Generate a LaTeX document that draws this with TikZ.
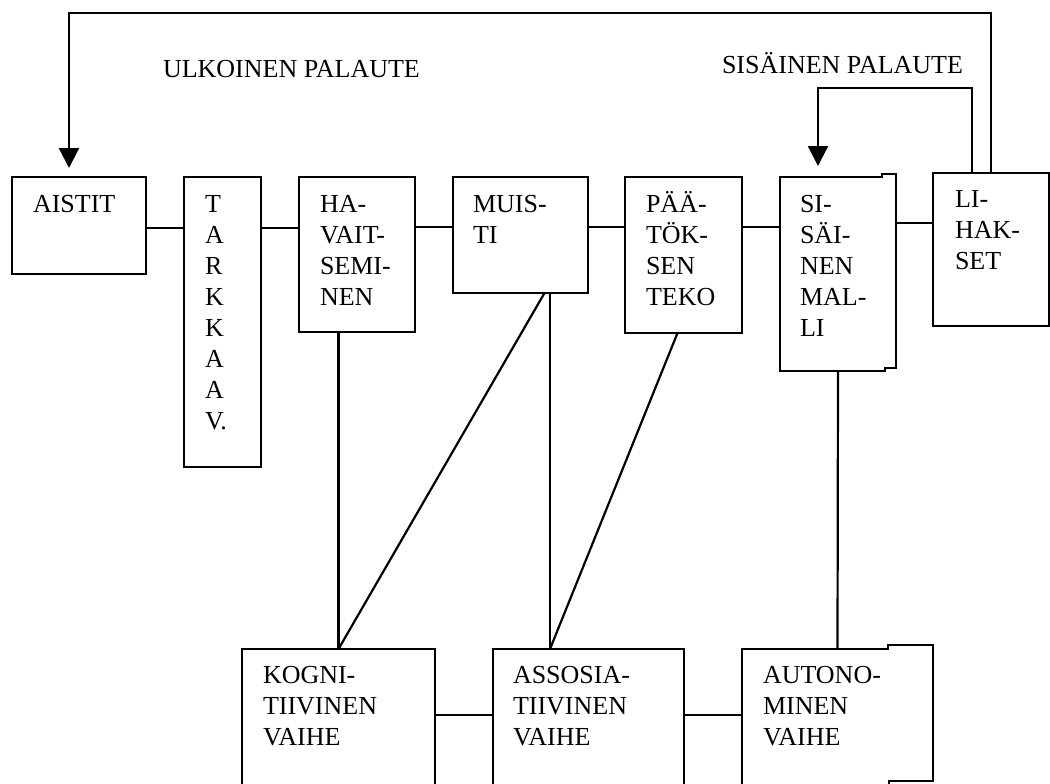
\documentclass[tikz,border=0pt]{standalone}
\usepackage{fontspec}
\setmainfont{Liberation Serif}
\definecolor{Ink}{RGB}{0, 0, 0}
\usetikzlibrary{arrows.meta, positioning}
\newcommand{\ekarivi}{\rule{0pt}{11pt}}

\begin{document}
\begin{tikzpicture}[x=0.5pt, y=-0.5pt, >={Triangle[width=10pt, length=10pt]}, line width=1.1pt, draw=Ink,
    lohko/.style={draw=Ink, inner sep=0pt, outer sep=0pt, anchor=north west},
    teksti/.style={text=Ink, inner sep=0pt, outer sep=0pt, align=left, anchor=north west, font=\fontsize{13pt}{15.5pt}\selectfont}]
    \useasboundingbox (0,0) rectangle (1050,783);
    \clip (0,0) rectangle (1050,783);
    % upper row
    \node[lohko, minimum width=67pt, minimum height=48.5pt] (aistit) at (12,177) {};
    \node[right=19pt of aistit.north east, lohko, minimum width=38.5pt, minimum height=145pt] (tark) {};
    \node[right=19pt of tark.north east, lohko, minimum width=58pt, minimum height=77.5pt] (havait) {};
    \node[right=19pt of havait.north east, lohko, minimum width=67.5pt, minimum height=58pt] (muisti) {};
    \node[right=18.5pt of muisti.north east, lohko, minimum width=58.5pt, minimum height=78pt] (paatos) {};
    \node[right=19pt of paatos.north east, lohko, draw=none, minimum width=58pt, minimum height=97pt] (sisainen) {};
    \node[right=18.5pt of sisainen.north east, lohko, yshift=2pt, minimum width=58pt, minimum height=76.5pt] (lihakset) {};
    \draw (sisainen.north west) -- ++(102,0) -- ++(0,-3) -- ++(14,0) -- ++(0,194) -- ++(-11,0) -- ++(0,3) -- (sisainen.south west) -- cycle;
    % lower row
    \node[lohko, minimum width=96.5pt, minimum height=75pt] (kogni) at (242,649) {};
    \node[right=29pt of kogni.north east, lohko, minimum width=95.5pt, minimum height=75pt] (assos) {};
    \node[right=29pt of assos.north east, lohko, draw=none, minimum width=95.5pt, minimum height=75pt] (autono) {};
    \draw (autono.south west) -- (autono.north west) -- ++(146,0) -- ++(0,-4) -- ++(45,0) -- ++(0,136) -- ++(-44,0) -- ++(0,18);
    % texts
    \node[teksti] (t-aistit) at ([xshift=10.5pt, yshift=-6.5pt]aistit.north west) {\ekarivi AISTIT};
    \node[teksti] (t-tark) at ([xshift=10.5pt, yshift=-6.5pt]tark.north west) {\ekarivi T\\A\\R\\K\\K\\A\\A\\V.};
    \node[teksti] (t-havait) at ([xshift=10.5pt, yshift=-6.5pt]havait.north west) {\ekarivi HA-\\VAIT-\\SEMI-\\NEN};
    \node[teksti] (t-muisti) at ([xshift=10pt, yshift=-6.5pt]muisti.north west) {\ekarivi MUIS-\\TI};
    \node[teksti] (t-paatos) at ([xshift=10.5pt, yshift=-6.5pt]paatos.north west) {\ekarivi PÄÄ-\\TÖK-\\SEN\\TEKO};
    \node[teksti] (t-sisainen) at ([xshift=10pt, yshift=-6.5pt]sisainen.north west) {\ekarivi SI-\\SÄI-\\NEN\\MAL-\\LI};
    \node[teksti] (t-lihakset) at ([xshift=11pt, yshift=-6pt]lihakset.north west) {\ekarivi LI-\\HAK-\\SET};
    \node[teksti] (t-kogni) at ([xshift=10.5pt, yshift=-6pt]kogni.north west) {\ekarivi KOGNI-\\TIIVINEN\\VAIHE};
    \node[teksti] (t-assos) at ([xshift=10pt, yshift=-6pt]assos.north west) {\ekarivi ASSOSIA-\\TIIVINEN\\VAIHE};
    \node[teksti] (t-autono) at ([xshift=10.5pt, yshift=-6pt]autono.north west) {\ekarivi AUTONO-\\MINEN\\VAIHE};
    \node[teksti, anchor=base west] (ulkoinen) at (163,77) {ULKOINEN PALAUTE};
    \node[teksti, anchor=base east] (sisainen-p) at (963,73) {SISÄINEN PALAUTE};
    % chain links
    \draw ([yshift=-25.5pt]aistit.north east) -- ([yshift=-25.5pt]tark.north west);
    \draw ([yshift=-25.5pt]tark.north east) -- ([yshift=-25.5pt]havait.north west);
    \draw ([yshift=-25pt]havait.north east) -- ([yshift=-25pt]muisti.north west);
    \draw ([yshift=-25pt]muisti.north east) -- ([yshift=-25pt]paatos.north west);
    \draw ([yshift=-25pt]paatos.north east) -- ([yshift=-25pt]sisainen.north west);
    \draw ([yshift=-23pt]sisainen.north east) -- ([yshift=-25pt]lihakset.north west);
    \draw ([yshift=-33pt]kogni.north east) -- ([yshift=-33pt]assos.north west);
    \draw ([yshift=-33pt]assos.north east) -- ([yshift=-33pt]autono.north west);
    % stages
    \coordinate (kogni-top) at (kogni.north);
    \coordinate (assos-top) at ([xshift=28.5pt]assos.north west);
    \draw (havait.south -| kogni-top) -- (kogni-top);
    \draw ([xshift=12pt]muisti.south) -- (kogni-top);
    \draw (muisti.south -| assos-top) -- (assos-top);
    \draw ([xshift=-3pt]paatos.south) -- (assos-top);
    \draw (sisainen.south) -- (autono.north);
    % feedback
    \coordinate (ulk-kulma) at (69,13);
    \coordinate (sis-kulma) at (818,88);
    \draw[->, shorten >=4.5pt] (lihakset.north) |- (ulk-kulma) -- (ulk-kulma |- aistit.north);
    \draw[->, shorten >=5.5pt] ([xshift=-9.5pt]lihakset.north) |- (sis-kulma) -- (sis-kulma |- sisainen.north);
\end{tikzpicture}
\end{document}
